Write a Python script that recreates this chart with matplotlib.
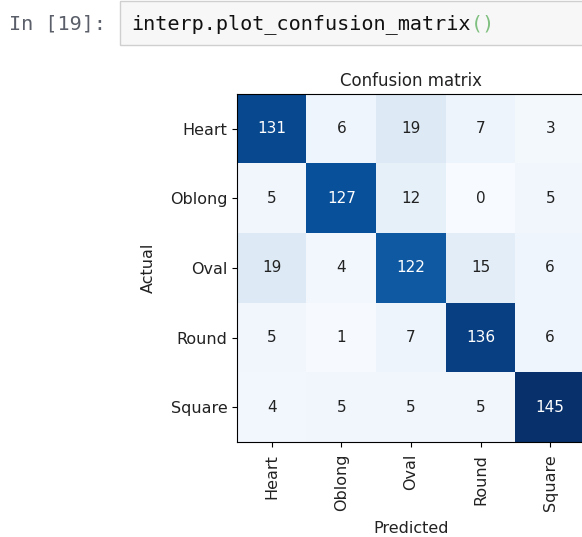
import numpy as np
import matplotlib
matplotlib.use("Agg")
import matplotlib.pyplot as plt
from matplotlib.patches import Rectangle

# confusion matrix values (rows = actual, cols = predicted)
classes = ['Heart', 'Oblong', 'Oval', 'Round', 'Square']
heart = [131, 6, 19, 7, 3]
oblong = [5, 127, 12, 0, 5]
oval = [19, 4, 122, 15, 6]
round_ = [5, 1, 7, 136, 6]
square = [4, 5, 5, 5, 145]
cm = np.array([heart, oblong, oval, round_, square])

W, H = 582, 537
fig = plt.figure(figsize=(W / 100, H / 100), dpi=100)
fig.patch.set_facecolor('white')

# notebook cell header
fig.patches.append(Rectangle((120 / W, 1 - 45 / H), 470 / W, 44 / H,
                             transform=fig.transFigure, facecolor='#f7f7f7',
                             edgecolor='#cfcfcf', linewidth=1))
fs_code = 14.5
fig.text(9 / W, 1 - 24 / H, 'In [19]:', family='DejaVu Sans Mono',
         fontsize=fs_code, color='#5a5f6a', va='center', ha='left')
fig.text(131 / W, 1 - 24 / H, 'interp.plot_confusion_matrix', family='DejaVu Sans Mono',
         fontsize=fs_code, color='#111111', va='center', ha='left')
char_w = 0.602 * fs_code * 100 / 72
fig.text(131 / W + 28 * char_w / W, 1 - 24 / H, '()', family='DejaVu Sans Mono',
         fontsize=fs_code, color='#7fbf7f', va='center', ha='left')

# the matrix
ax = fig.add_axes([237 / W, 95 / H, 348 / W, 348 / H])
ax.imshow(cm, interpolation='nearest', cmap='Blues', aspect='auto')
ax.set_title('Confusion matrix', fontsize=12, color='#222222', pad=6)
ticks = np.arange(len(classes))
ax.set_xticks(ticks)
ax.set_xticklabels(classes, rotation=90, fontsize=11.5, color='#222222')
ax.set_yticks(ticks)
ax.set_yticklabels(classes, fontsize=11.5, color='#222222')
ax.tick_params(axis='x', pad=5)

thresh = cm.max() / 2.
for i in range(cm.shape[0]):
    for j in range(cm.shape[1]):
        ax.text(j, i, str(cm[i, j]), ha='center', va='center', fontsize=11,
                color='white' if cm[i, j] > thresh else '#222222')

ax.set_ylabel('Actual', fontsize=11.5, color='#222222', labelpad=10)
ax.set_xlabel('Predicted', fontsize=11.5, color='#222222', labelpad=7)
ax.grid(False)

fig.savefig('out.png', dpi=100)
